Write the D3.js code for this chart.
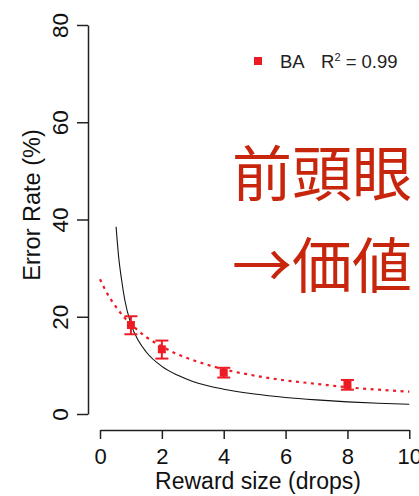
<!DOCTYPE html>
<html>
<head>
<meta charset="utf-8">
<script src="https://cdn.jsdelivr.net/npm/d3@7"></script>
<style>
  body { margin: 0; background: #fff; }
  svg { display: block; font-family: "Liberation Sans", Arial, sans-serif; }
  .axis path, .axis line { stroke: #222; stroke-width: 1.5; }
  .axis text { fill: #111; }
</style>
</head>
<body>
<div id="chart"></div>
<script>
// reward size (drops) and error rate (%) with error bars
const rewards = [1, 2, 4, 8];
const errorRate = [18.3, 13.3, 8.5, 6.0];
const errLow = [16.4, 11.4, 7.5, 5.0];
const errHigh = [20.1, 15.1, 9.5, 7.0];

// fitted curve (red dotted)
const fitX = [0, 0.25, 0.5, 0.75, 1, 1.5, 2, 2.5, 3, 4, 5, 6, 7, 8, 9, 10];
const fitY = [27.7, 24.6, 22.2, 20.1, 18.5, 15.8, 13.9, 12.3, 11.1, 9.2, 7.9, 6.9, 6.2, 5.5, 5.0, 4.6];

// reference curve (black)
const refX = [0.52, 0.6, 0.7, 0.8, 1, 1.25, 1.5, 2, 2.5, 3, 4, 5, 6, 7, 8, 9, 10];
const refY = [38.5, 32.5, 27.5, 23.5, 18.5, 15.0, 12.7, 9.8, 8.0, 6.7, 5.1, 4.1, 3.4, 2.9, 2.5, 2.2, 2.0];

const xTicks = [0, 2, 4, 6, 8, 10];
const yTicks = [0, 20, 40, 60, 80];
const legendLabel = 'BA';
const noteLines = ['前頭眼', '→価値'];

const width = 419, height = 496;
const red = '#ec1c24';

const svg = d3.select('#chart').append('svg')
    .attr('width', width)
    .attr('height', height);

const x = d3.scaleLinear().domain([0, 10]).range([100, 409.3]);
const y = d3.scaleLinear().domain([0, 80]).range([414, 25]);

// x axis
const xAxis = d3.axisBottom(x).tickValues(xTicks).tickSize(9).tickSizeOuter(0);
const gx = svg.append('g')
    .attr('class', 'axis')
    .attr('transform', 'translate(0,430)')
    .call(xAxis);
gx.selectAll('text')
    .attr('y', 0)
    .attr('dy', 0)
    .attr('transform', 'translate(0,34)')
    .style('font-size', '22px');

// y axis
const yAxis = d3.axisLeft(y).tickValues(yTicks).tickSize(11).tickSizeOuter(0);
const gy = svg.append('g')
    .attr('class', 'axis')
    .attr('transform', 'translate(88,0)')
    .call(yAxis);
gy.selectAll('.tick text')
    .attr('x', 0)
    .attr('dy', 0)
    .attr('transform', 'translate(-20,0) rotate(-90)')
    .style('text-anchor', 'middle')
    .style('font-size', '22.5px');

// axis titles
svg.append('text')
    .attr('x', 258)
    .attr('y', 489)
    .attr('text-anchor', 'middle')
    .style('font-size', '23px')
    .attr('fill', '#111')
    .text('Reward size (drops)');

svg.append('text')
    .attr('transform', 'translate(39.5,205) rotate(-90)')
    .attr('text-anchor', 'middle')
    .style('font-size', '23.5px')
    .attr('fill', '#111')
    .text('Error Rate (%)');

// curves
const line = d3.line()
    .x(d => x(d[0]))
    .y(d => y(d[1]))
    .curve(d3.curveMonotoneX);

svg.append('path')
    .datum(refX.map((v, i) => [v, refY[i]]))
    .attr('d', line)
    .attr('fill', 'none')
    .attr('stroke', '#111')
    .attr('stroke-width', 1.1);

svg.append('path')
    .datum(fitX.map((v, i) => [v, fitY[i]]))
    .attr('d', line)
    .attr('fill', 'none')
    .attr('stroke', red)
    .attr('stroke-width', 2.2)
    .attr('stroke-dasharray', '3,4.5');

// error bars
const pts = svg.append('g').selectAll('g')
    .data(rewards.map((r, i) => ({ r, v: errorRate[i], lo: errLow[i], hi: errHigh[i] })))
    .join('g');

pts.append('line')
    .attr('x1', d => x(d.r)).attr('x2', d => x(d.r))
    .attr('y1', d => y(d.lo)).attr('y2', d => y(d.hi))
    .attr('stroke', red).attr('stroke-width', 2);

pts.selectAll('.cap')
    .data(d => [d.lo, d.hi].map(v => ({ r: d.r, v })))
    .join('line')
    .attr('class', 'cap')
    .attr('x1', d => x(d.r) - 6.5).attr('x2', d => x(d.r) + 6.5)
    .attr('y1', d => y(d.v)).attr('y2', d => y(d.v))
    .attr('stroke', red).attr('stroke-width', 2);

pts.append('rect')
    .attr('x', d => x(d.r) - 4)
    .attr('y', d => y(d.v) - 4)
    .attr('width', 8)
    .attr('height', 8)
    .attr('fill', red);

// legend
const legend = svg.append('g').attr('transform', 'translate(258,61)');
legend.append('rect')
    .attr('x', -4).attr('y', -4)
    .attr('width', 8).attr('height', 8)
    .attr('fill', red);
legend.append('text')
    .attr('x', 22).attr('y', 6.5)
    .style('font-size', '18.5px')
    .attr('fill', '#222')
    .text(legendLabel);
const r2 = legend.append('text')
    .attr('x', 63).attr('y', 6.5)
    .style('font-size', '18.5px')
    .attr('fill', '#222');
r2.append('tspan').text('R');
r2.append('tspan').attr('dy', -7).style('font-size', '11px').text('2');
r2.append('tspan').attr('dy', 7).text(' = 0.99');

// annotation
svg.append('g').selectAll('text')
    .data(noteLines)
    .join('text')
    .attr('x', 232)
    .attr('y', (d, i) => 196 + i * 92)
    .style('font-family', '"Noto Sans CJK JP", sans-serif')
    .style('font-size', '60px')
    .attr('fill', '#c8260c')
    .text(d => d);
</script>
</body>
</html>
